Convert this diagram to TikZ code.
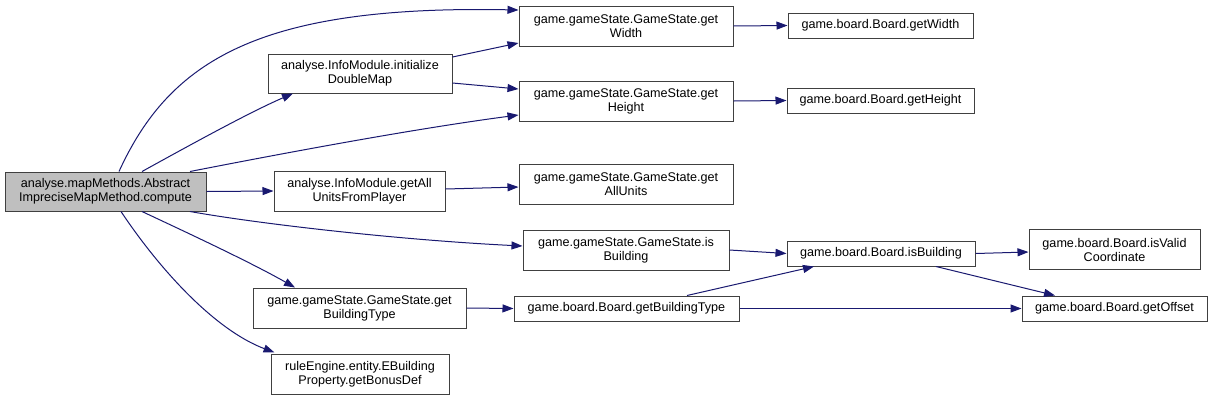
\documentclass[tikz,border=0pt]{standalone}
\usepackage{fontspec}
\setmainfont{Liberation Sans}
\usetikzlibrary{arrows.meta}
\definecolor{edgeblue}{HTML}{191970}
\definecolor{boxline}{HTML}{404040}
\definecolor{rootfill}{HTML}{BFBFBF}
\tikzset{
  fn/.style={draw=boxline, line width=1pt, fill=white, rectangle, inner sep=0pt,
    align=center, font=\fontsize{12.6}{14}\selectfont},
  root/.style={fn, fill=rootfill},
  call/.style={draw=edgeblue, line width=1pt, -{Triangle[length=11pt,width=8pt]}},
}
\begin{document}
\begin{tikzpicture}[x=1pt,y=-1pt]
\useasboundingbox (0,0) rectangle (1212,400);
\fill[white] (0,0) rectangle (1212,400);
% nodes
\node[root, minimum width=201pt, minimum height=39pt] (compute) at (105.5,191.5) {analyse.mapMethods.Abstract\\ImpreciseMapMethod.compute};
\node[fn, minimum width=184pt, minimum height=39pt] (init) at (360,73.5) {analyse.InfoModule.initialize\\DoubleMap};
\node[fn, minimum width=171pt, minimum height=40pt] (getall) at (359.5,191) {analyse.InfoModule.getAll\\UnitsFromPlayer};
\node[fn, minimum width=213pt, minimum height=40pt] (gsbt) at (359.5,308) {game.gameState.GameState.get\\BuildingType};
\node[fn, minimum width=178pt, minimum height=40pt] (rule) at (360,374) {ruleEngine.entity.EBuilding\\Property.getBonusDef};
\node[fn, minimum width=214pt, minimum height=40pt] (gsw) at (626,26) {game.gameState.GameState.get\\Width};
\node[fn, minimum width=214pt, minimum height=40pt] (gsh) at (626,101) {game.gameState.GameState.get\\Height};
\node[fn, minimum width=214pt, minimum height=40pt] (gsau) at (626,184) {game.gameState.GameState.get\\AllUnits};
\node[fn, minimum width=206pt, minimum height=40pt] (gsib) at (626,250) {game.gameState.GameState.is\\Building};
\node[fn, minimum width=225pt, minimum height=25pt] (bbt) at (626.5,308.5) {game.board.Board.getBuildingType};
\node[fn, minimum width=185pt, minimum height=25pt] (bw) at (880.5,25.5) {game.board.Board.getWidth};
\node[fn, minimum width=187pt, minimum height=25pt] (bh) at (880.5,100.5) {game.board.Board.getHeight};
\node[fn, minimum width=188pt, minimum height=25pt] (bib) at (881,253.5) {game.board.Board.isBuilding};
\node[fn, minimum width=171pt, minimum height=40pt] (valid) at (1114.5,249.5) {game.board.Board.isValid\\Coordinate};
\node[fn, minimum width=185pt, minimum height=25pt] (off) at (1114.5,308.5) {game.board.Board.getOffset};
% edges
\draw[call] ([xshift=13.5pt]compute.north) .. controls (170,60) and (260,5) .. ([yshift=16pt]gsw.west);
\draw[call] ([xshift=36.5pt]compute.north) .. controls (190,145) and (250,112) .. ([xshift=-67pt]init.south);
\draw[call] ([xshift=84.5pt]compute.north) .. controls (300,150) and (420,128) .. ([yshift=-14pt]gsh.west);
\draw[call] ([yshift=16.5pt]init.east) -- ([yshift=-17pt]gsw.west);
\draw[call] ([yshift=-9.5pt]init.east) -- ([yshift=12pt]gsh.west);
\draw[call] (compute.east) -- (getall.west);
\draw[call] ([yshift=2pt]getall.east) -- ([yshift=-3pt]gsau.west);
\draw[call] ([xshift=84.5pt]compute.south) .. controls (260,224) and (400,240) .. ([yshift=4pt]gsib.west);
\draw[call] ([xshift=36.5pt]compute.south) .. controls (190,234) and (250,262) .. ([xshift=-64.5pt]gsbt.north);
\draw[call] ([xshift=15.5pt]compute.south) .. controls (160,270) and (215,330) .. ([xshift=4pt,yshift=1pt]rule.north west);
\draw[call] (gsbt.east) -- (bbt.west);
\draw[call] (gsw.east) -- (bw.west);
\draw[call] (gsh.east) -- (bh.west);
\draw[call] (gsib.east) -- (bib.west);
\draw[call] ([xshift=60.5pt]bbt.north) -- ([xshift=-67pt]bib.south);
\draw[call] (bbt.east) -- (off.west);
\draw[call] (bib.east) -- ([yshift=-2.5pt]valid.west);
\draw[call] ([xshift=55pt]bib.south) -- ([xshift=-59.5pt]off.north);
\end{tikzpicture}
\end{document}
